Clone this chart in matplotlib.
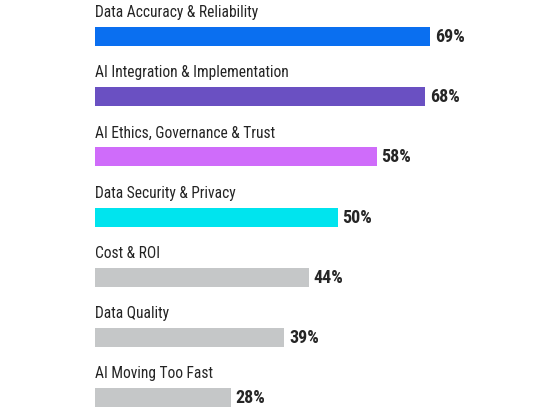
import matplotlib.pyplot as plt

categories = [
    "Data Accuracy & Reliability",
    "AI Integration & Implementation",
    "AI Ethics, Governance & Trust",
    "Data Security & Privacy",
    "Cost & ROI",
    "Data Quality",
    "AI Moving Too Fast",
]
values = [69, 68, 58, 50, 44, 39, 28]
colors = ["#0a6ff0", "#6a50c2", "#cf6cfa", "#00e4ee",
          "#c5c7c8", "#c5c7c8", "#c5c7c8"]

fig = plt.figure(figsize=(5.6, 4.11), dpi=100)
# axes spans from bar start to right edge, full height (pixel-like y units)
ax = fig.add_axes([95 / 560, 0, 465 / 560, 1])
ax.set_xlim(0, 465 / 4.855)
ax.set_ylim(411, 0)
ax.axis("off")

pitch = 60.2
first = 36.5
bar_h = 19
for i, (cat, val, col) in enumerate(zip(categories, values, colors)):
    yc = first + i * pitch
    ax.barh(yc, val, height=bar_h, color=col)
    ax.text(0, yc - bar_h / 2 - 10, cat, ha="left", va="baseline",
            fontsize=11.2, color="#252525",
            family=["Roboto Condensed", "DejaVu Sans"])
    ax.text(val + 1.0, yc + 0.5, f"{val}%", ha="left", va="center",
            fontsize=13, fontweight="bold", color="#252525",
            family=["Roboto Condensed", "DejaVu Sans"])

fig.savefig("out.png", dpi=100)
